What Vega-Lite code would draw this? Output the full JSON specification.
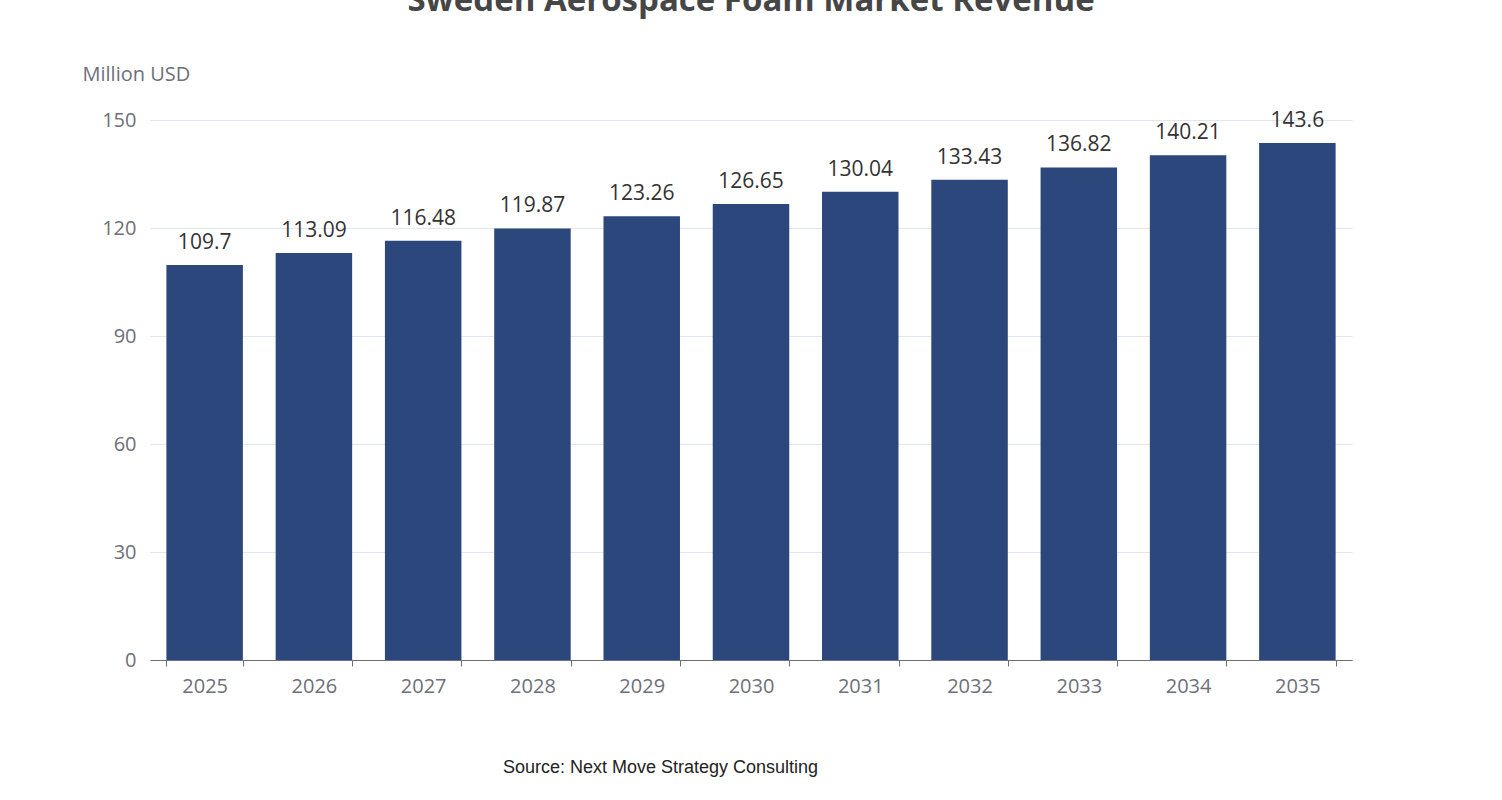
{
  "$schema": "https://vega.github.io/schema/vega-lite/v6.json",
  "width": 1202,
  "height": 540,
  "autosize": {"type": "none"},
  "padding": {"left": 150, "top": 120, "right": 150, "bottom": 140},
  "background": "white",
  "config": {"view": {"stroke": null}},
  "title": {"text": "Sweden Aerospace Foam Market Revenue", "font": "Open Sans", "fontSize": 33, "fontWeight": "bold", "color": "#464646", "anchor": "middle", "offset": 46},
  "data": {"values": [
    {"year": "2025", "v": 109.7}, {"year": "2026", "v": 113.09}, {"year": "2027", "v": 116.48},
    {"year": "2028", "v": 119.87}, {"year": "2029", "v": 123.26}, {"year": "2030", "v": 126.65},
    {"year": "2031", "v": 130.04}, {"year": "2032", "v": 133.43}, {"year": "2033", "v": 136.82},
    {"year": "2034", "v": 140.21}, {"year": "2035", "v": 143.6}
  ]},
  "encoding": {
    "x": {"field": "year", "type": "nominal", "scale": {"paddingInner": 0.3, "paddingOuter": 0.15},
      "axis": {"labelAngle": 0, "labelFont": "Open Sans", "labelFontSize": 20, "labelColor": "#6e7079", "labelPadding": 10, "domainColor": "#6e7079", "tickColor": "#6e7079", "tickSize": 6, "tickBand": "extent",
        "title": "Source: Next Move Strategy Consulting", "titleFont": "Liberation Sans", "titleFontSize": 18, "titleFontWeight": "normal", "titleColor": "#222", "titleX": 510, "titleY": 98, "titleAnchor": "middle", "titleAlign": "center"}},
    "y": {"field": "v", "type": "quantitative", "scale": {"domain": [0, 150]},
      "axis": {"values": [0, 30, 60, 90, 120, 150], "labelFont": "Open Sans", "labelFontSize": 20, "labelColor": "#6e7079", "labelPadding": 14, "domain": false, "ticks": false, "gridColor": "#e0e6f1",
        "title": "Million USD", "titleAngle": 0, "titleX": -68, "titleY": -36, "titleAlign": "left", "titleFont": "Open Sans", "titleFontSize": 20, "titleFontWeight": "normal", "titleColor": "#6e7079"}}
  },
  "layer": [
    {"mark": {"type": "bar", "color": "#2b477b"}},
    {"mark": {"type": "text", "dy": -22, "font": "Open Sans", "fontSize": 21, "color": "#333"}, "encoding": {"text": {"field": "v", "type": "quantitative"}}}
  ]
}
